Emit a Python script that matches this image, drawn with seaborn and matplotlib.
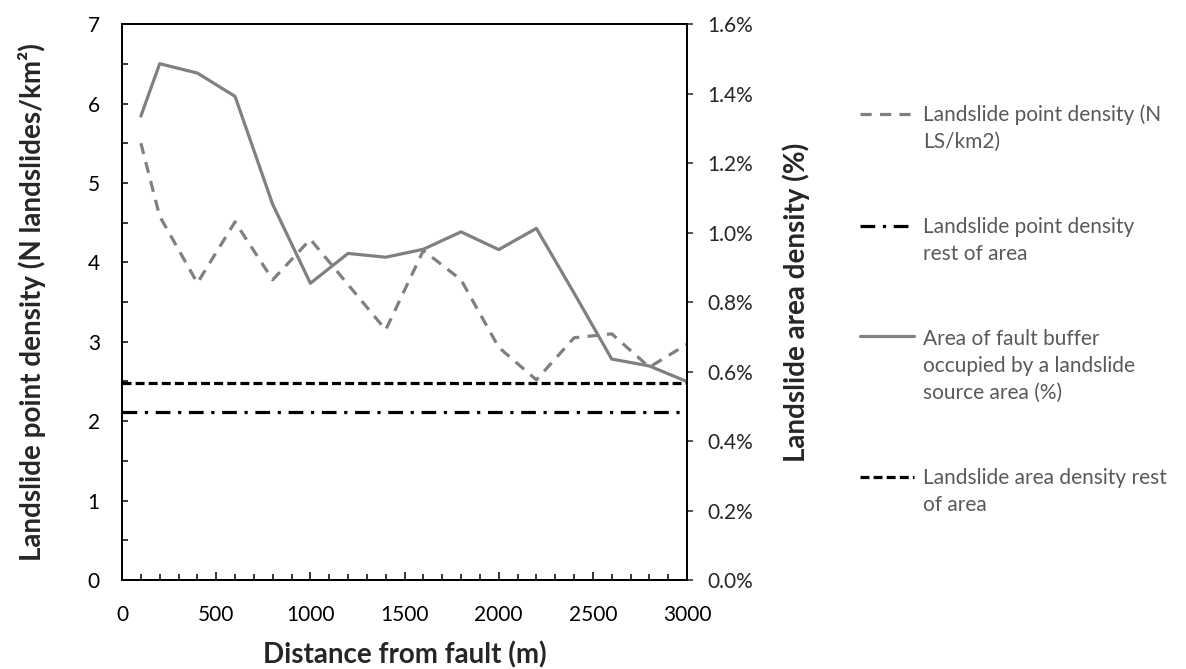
import numpy as np
import pandas as pd
import matplotlib
matplotlib.use('Agg')
import matplotlib.pyplot as plt
import seaborn as sns
from matplotlib.ticker import MultipleLocator, PercentFormatter
from matplotlib.legend_handler import HandlerLine2D

# Data
distance = [100, 200, 400, 600, 800, 1000, 1200, 1400, 1600, 1800, 2000, 2200, 2400, 2600, 2800, 3000]
point_density = [5.50, 4.58, 3.74, 4.51, 3.78, 4.29, 3.72, 3.15, 4.15, 3.78, 2.93, 2.52, 3.05, 3.10, 2.68, 2.97]
area_pct = [1.335, 1.486, 1.459, 1.392, 1.081, 0.854, 0.940, 0.929, 0.952, 1.002, 0.951, 1.012, 0.826, 0.636, 0.616, 0.571]
point_density_rest = 2.11
area_density_rest_pct = 0.568

labels = ['Landslide point density (N\nLS/km2)',
          'Landslide point density\nrest of area',
          'Area of fault buffer\noccupied by a landslide\nsource area (%)',
          'Landslide area density rest\nof area']

df = pd.DataFrame({'Distance': distance, 'PointDensity': point_density, 'AreaPct': area_pct})

sns.set_style('white')
plt.rcParams['font.family'] = ['Lato', 'DejaVu Sans']

LEG_LS = 1.45  # line spacing of legend text


class FirstLineHandler(HandlerLine2D):
    """Put the legend line next to the first text line instead of the middle."""
    def __init__(self, nlines, **kw):
        super().__init__(**kw)
        self.nlines = nlines

    def create_artists(self, legend, orig_handle, xdescent, ydescent, width, height, fontsize, trans):
        arts = super().create_artists(legend, orig_handle, xdescent, ydescent, width, height, fontsize, trans)
        shift = (self.nlines - 1) * LEG_LS * fontsize / 2
        for a in arts:
            a.set_ydata(np.asarray(a.get_ydata()) + shift)
        return arts


GREY = '#808080'
fig = plt.figure(figsize=(11.86, 6.69), dpi=100)
ax = fig.add_axes([0.1029, 0.133, 0.4764, 0.831])
ax2 = ax.twinx()

sns.lineplot(data=df, x='Distance', y='PointDensity', ax=ax, color=GREY, lw=2.3)
h_pd = ax.lines[-1]
h_pd.set_dashes([3.5, 2.6])
h_rest = ax.axhline(point_density_rest, color='black', lw=2.3, dashes=[4.6, 2.4, 1.0, 2.4])

sns.lineplot(data=df, x='Distance', y='AreaPct', ax=ax2, color=GREY, lw=2.3)
h_area = ax2.lines[-1]
h_arest = ax2.axhline(area_density_rest_pct, color='black', lw=2.3, dashes=[2.8, 1.3])

ax.set_xlim(0, 3000)
ax.set_ylim(0, 7)
ax2.set_ylim(0, 1.6)
ax.xaxis.set_major_locator(MultipleLocator(500))
ax.xaxis.set_minor_locator(MultipleLocator(100))
ax.yaxis.set_major_locator(MultipleLocator(1))
ax.yaxis.set_minor_locator(MultipleLocator(0.5))
ax2.yaxis.set_major_locator(MultipleLocator(0.2))
ax2.yaxis.set_major_formatter(PercentFormatter(xmax=100, decimals=1))

ax.tick_params(axis='both', which='both', direction='in', labelsize=15, colors='black')
ax.tick_params(axis='x', which='major', length=6, width=1.1, pad=18, bottom=True)
ax.tick_params(axis='x', which='minor', length=4.5, width=1.1, bottom=True)
ax.tick_params(axis='y', which='both', length=4.5, width=1.1, pad=16, left=True)
ax2.tick_params(axis='y', which='major', direction='out', length=4.5, width=1.1,
                labelsize=15, pad=10, right=True)

for a in (ax, ax2):
    for s in a.spines.values():
        s.set_color('black')
        s.set_linewidth(1.3)
    a.grid(False)

ax.set_xlabel('Distance from fault (m)', fontsize=20, fontweight='bold', labelpad=12)
ax.set_ylabel('Landslide point density (N landslides/km²)', fontsize=20, fontweight='bold', labelpad=30)
ax2.set_ylabel('Landslide area density (%)', fontsize=20, fontweight='bold', labelpad=21)

handles = [h_pd, h_rest, h_area, h_arest]
hmap = {h_pd: FirstLineHandler(2), h_rest: FirstLineHandler(2),
        h_area: FirstLineHandler(3), h_arest: FirstLineHandler(2)}
leg = fig.legend(handles, labels, loc='upper left', bbox_to_anchor=(0.7095, 0.872),
                 frameon=False, fontsize=15, handlelength=2.6, handletextpad=0.4,
                 labelspacing=3.1, handler_map=hmap)
for t in leg.get_texts():
    t.set_color('#595959')
    t.set_linespacing(LEG_LS)

fig.savefig('out.png', dpi=100)
